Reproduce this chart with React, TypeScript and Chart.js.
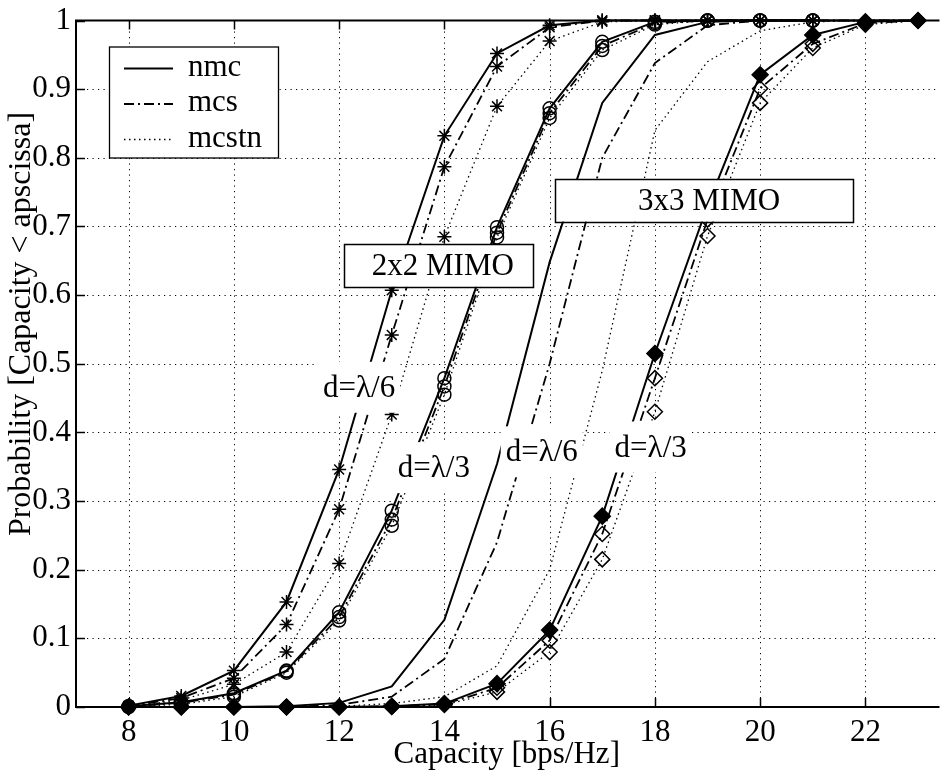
import React, { useEffect, useRef } from 'react';
import { Chart, registerables } from 'chart.js';

Chart.register(...registerables);

const FONT = "'Liberation Serif', 'Times New Roman', Times, serif";
const FS = 31;

// ---------- axes ----------
const xTicks = [8, 10, 12, 14, 16, 18, 20, 22];
const yTicks = [0, 0.1, 0.2, 0.3, 0.4, 0.5, 0.6, 0.7, 0.8, 0.9, 1];
const xTitle = 'Capacity [bps/Hz]';
const yTitle = 'Probability [Capacity < apscissa]';

// ---------- data ----------
const cap2x2 = [8, 9, 10, 11, 12, 13, 14, 15, 16, 17, 18, 19, 20, 21];
const cap3x3 = [8, 9, 10, 11, 12, 13, 14, 15, 16, 17, 18, 19, 20, 21, 22, 23];

// 2x2 MIMO, d = lambda/6 (stars)
const m2l6Nmc = [0.002, 0.016, 0.053, 0.153, 0.346, 0.607, 0.832, 0.952, 0.993, 1, 1, 1, 1, 1];
const m2l6Mcs = [0.001, 0.013, 0.042, 0.12, 0.288, 0.542, 0.787, 0.933, 0.99, 1, 1, 1, 1, 1];
const m2l6Mcstn = [0.001, 0.01, 0.033, 0.08, 0.209, 0.426, 0.685, 0.875, 0.97, 0.998, 1, 1, 1, 1];

// 2x2 MIMO, d = lambda/3 (circles)
const m2l3Nmc = [0.001, 0.007, 0.02, 0.053, 0.138, 0.286, 0.479, 0.699, 0.872, 0.969, 0.998, 1, 1, 1];
const m2l3Mcs = [0.001, 0.006, 0.018, 0.052, 0.131, 0.273, 0.467, 0.691, 0.865, 0.963, 0.996, 1, 1, 1];
const m2l3Mcstn = [0, 0.004, 0.015, 0.05, 0.126, 0.264, 0.455, 0.684, 0.858, 0.957, 0.994, 1, 1, 1];

// 3x3 MIMO, d = lambda/6 (no markers)
const m3l6Nmc = [0, 0, 0, 0.001, 0.006, 0.03, 0.127, 0.354, 0.648, 0.88, 0.979, 0.998, 1, 1, 1, 1];
const m3l6Mcs = [0, 0, 0, 0, 0.003, 0.015, 0.07, 0.24, 0.5, 0.8, 0.938, 0.993, 1, 1, 1, 1];
const m3l6Mcstn = [0, 0, 0, 0, 0.001, 0.005, 0.015, 0.06, 0.2, 0.49, 0.84, 0.94, 0.985, 0.998, 1, 1];

// 3x3 MIMO, d = lambda/3 (diamonds)
const m3l3Nmc = [0, 0, 0, 0, 0, 0.001, 0.005, 0.034, 0.112, 0.278, 0.515, 0.73, 0.921, 0.979, 0.998, 1];
const m3l3Mcs = [0, 0, 0, 0, 0, 0.001, 0.004, 0.028, 0.097, 0.252, 0.479, 0.71, 0.901, 0.966, 0.996, 1];
const m3l3Mcstn = [0, 0, 0, 0, 0, 0, 0.003, 0.022, 0.08, 0.215, 0.43, 0.686, 0.88, 0.96, 0.994, 1];

// ---------- legend & annotations ----------
const legendLabels = ['nmc', 'mcs', 'mcstn'];
const dashSolid: number[] = [];
const dashDashDot = [10, 4, 2, 4];
const dashDot = [1.5, 3.5];
const legendDashes = [dashSolid, dashDashDot, dashDot];
const wSolid = 2;
const wDashDot = 1.8;
const wDot = 1.3;
const legendWidths = [wSolid, wDashDot, wDot];

const textLabels = [
  { text: 'd=λ/6', x: 12.38, y: 0.465 },
  { text: 'd=λ/3', x: 13.8, y: 0.348 },
  { text: 'd=λ/6', x: 15.85, y: 0.371 },
  { text: 'd=λ/3', x: 17.92, y: 0.378 },
];
const boxLabels = [
  { text: '2x2 MIMO', x0: 12.1, x1: 15.69, y0: 0.612, y1: 0.674, tx: 13.97 },
  { text: '3x3 MIMO', x0: 16.11, x1: 21.77, y0: 0.707, y1: 0.769, tx: 19.03 },
];

type Marker = { style: any; fill: boolean; radius: number } | null;

function series(xs: number[], ys: number[], dash: number[], width: number, marker: Marker) {
  return {
    data: xs.map((x, i) => ({ x, y: ys[i] })),
    borderColor: '#000',
    borderWidth: width,
    borderDash: dash,
    fill: false,
    tension: 0,
    clip: false as any,
    pointStyle: marker ? marker.style : 'circle',
    pointRadius: marker ? marker.radius : 0,
    pointBorderColor: '#000',
    pointBorderWidth: 1.5,
    pointBackgroundColor: marker && marker.fill ? '#000' : 'rgba(0,0,0,0)',
  };
}

const starM: Marker = { style: 'star', fill: false, radius: 7 };
const circM: Marker = { style: 'circle', fill: false, radius: 6.5 };
const diaFill: Marker = { style: 'rectRot', fill: true, radius: 8 };
const diaOpen: Marker = { style: 'rectRot', fill: false, radius: 7.5 };

const decorPlugin = {
  id: 'matlabDecor',
  beforeDatasetsDraw(chart: any) {
    const { ctx, chartArea: a, scales } = chart;
    const xs = scales.x;
    const ys = scales.y;
    ctx.save();
    // dotted grid
    ctx.strokeStyle = '#000';
    ctx.lineWidth = 1;
    ctx.setLineDash([1.2, 4.3]);
    for (const v of xTicks) {
      const px = Math.round(xs.getPixelForValue(v)) + 0.5;
      ctx.beginPath();
      ctx.moveTo(px, a.top);
      ctx.lineTo(px, a.bottom);
      ctx.stroke();
    }
    for (const v of yTicks) {
      if (v <= 0 || v >= 1) continue;
      const py = Math.round(ys.getPixelForValue(v)) + 0.5;
      ctx.beginPath();
      ctx.moveTo(a.left, py);
      ctx.lineTo(a.right, py);
      ctx.stroke();
    }
    ctx.setLineDash([]);
    // inward tick marks
    ctx.lineWidth = 1.5;
    for (const v of xTicks) {
      const px = Math.round(xs.getPixelForValue(v)) + 0.5;
      ctx.beginPath();
      ctx.moveTo(px, a.bottom);
      ctx.lineTo(px, a.bottom - 9);
      ctx.moveTo(px, a.top);
      ctx.lineTo(px, a.top + 9);
      ctx.stroke();
    }
    for (const v of yTicks) {
      const py = Math.round(ys.getPixelForValue(v)) + 0.5;
      ctx.beginPath();
      ctx.moveTo(a.left, py);
      ctx.lineTo(a.left + 9, py);
      ctx.stroke();
    }
    // frame
    ctx.lineWidth = 2;
    ctx.beginPath();
    ctx.moveTo(a.right + 2, a.top);
    ctx.lineTo(a.left, a.top);
    ctx.lineTo(a.left, a.bottom);
    ctx.lineTo(a.right + 2, a.bottom);
    ctx.stroke();
    // y title
    ctx.fillStyle = '#000';
    ctx.font = `32px ${FONT}`;
    ctx.textAlign = 'center';
    ctx.textBaseline = 'middle';
    ctx.translate(22, 324);
    ctx.rotate(-Math.PI / 2);
    ctx.fillText(yTitle, 0, 0);
    ctx.restore();
  },
  afterDatasetsDraw(chart: any) {
    const { ctx, chartArea: a, scales } = chart;
    const xs = scales.x;
    const ys = scales.y;
    ctx.save();
    ctx.font = `${FS}px ${FONT}`;
    ctx.textAlign = 'center';
    ctx.textBaseline = 'middle';
    // d= labels with white background
    for (const t of textLabels) {
      const cx = xs.getPixelForValue(t.x);
      const cy = ys.getPixelForValue(t.y);
      const w = ctx.measureText(t.text).width + 10;
      ctx.fillStyle = '#fff';
      ctx.fillRect(cx - w / 2, cy - 26, w, 51);
      ctx.fillStyle = '#000';
      ctx.fillText(t.text, cx, cy + 1);
    }
    // boxed labels
    for (const b of boxLabels) {
      const x0 = xs.getPixelForValue(b.x0);
      const x1 = xs.getPixelForValue(b.x1);
      const y0 = ys.getPixelForValue(b.y1);
      const y1 = ys.getPixelForValue(b.y0);
      ctx.fillStyle = '#fff';
      ctx.fillRect(x0, y0, x1 - x0, y1 - y0);
      ctx.strokeStyle = '#000';
      ctx.lineWidth = 1.5;
      ctx.strokeRect(Math.round(x0) + 0.5, Math.round(y0) + 0.5, Math.round(x1 - x0), Math.round(y1 - y0));
      ctx.fillStyle = '#000';
      ctx.fillText(b.text, xs.getPixelForValue(b.tx), (y0 + y1) / 2 + 1);
    }
    // legend
    const L = a.left + 33;
    const T = a.top + 26;
    const W = 169;
    const H = 111;
    ctx.fillStyle = '#fff';
    ctx.fillRect(L, T, W, H);
    ctx.strokeStyle = '#000';
    ctx.lineWidth = 1.3;
    ctx.strokeRect(L + 0.5, T + 0.5, W, H);
    ctx.textAlign = 'left';
    legendLabels.forEach((lab, i) => {
      const ry = T + 22 + i * 35.5;
      ctx.setLineDash(legendDashes[i]);
      ctx.lineWidth = legendWidths[i];
      ctx.beginPath();
      ctx.moveTo(L + 15, ry);
      ctx.lineTo(L + 64, ry);
      ctx.stroke();
      ctx.setLineDash([]);
      ctx.fillStyle = '#000';
      ctx.fillText(lab, L + 79, ry - 1);
    });
    ctx.restore();
  },
};

export default function App() {
  const ref = useRef<HTMLCanvasElement>(null);
  useEffect(() => {
    if (!ref.current) return;
    const datasets = [
      series(cap2x2, m2l6Nmc, dashSolid, wSolid, starM),
      series(cap2x2, m2l6Mcs, dashDashDot, wDashDot, starM),
      series(cap2x2, m2l6Mcstn, dashDot, wDot, starM),
      series(cap2x2, m2l3Nmc, dashSolid, wSolid, circM),
      series(cap2x2, m2l3Mcs, dashDashDot, wDashDot, circM),
      series(cap2x2, m2l3Mcstn, dashDot, wDot, circM),
      series(cap3x3, m3l6Nmc, dashSolid, wSolid, null),
      series(cap3x3, m3l6Mcs, dashDashDot, wDashDot, null),
      series(cap3x3, m3l6Mcstn, dashDot, wDot, null),
      series(cap3x3, m3l3Nmc, dashSolid, wSolid, diaFill),
      series(cap3x3, m3l3Mcs, dashDashDot, wDashDot, diaOpen),
      series(cap3x3, m3l3Mcstn, dashDot, wDot, diaOpen),
    ];
    const chart = new Chart(ref.current, {
      type: 'line',
      data: { datasets: datasets as any },
      options: {
        animation: false,
        responsive: false,
        events: [],
        layout: { padding: { top: 17, left: 0, right: 0, bottom: 0 } },
        plugins: { legend: { display: false }, tooltip: { enabled: false } },
        scales: {
          x: {
            type: 'linear',
            min: 7,
            max: 23.37,
            grid: { display: false, drawTicks: false, tickLength: 0 },
            border: { display: false },
            afterBuildTicks: (s: any) => {
              s.ticks = xTicks.map((v) => ({ value: v }));
            },
            afterFit: (s: any) => {
              s.height = 70;
            },
            ticks: {
              color: '#000',
              font: { family: FONT, size: FS, lineHeight: 1 },
              padding: 10,
              maxRotation: 0,
              autoSkip: false,
              callback: (v: any) => String(v),
            },
            title: {
              display: true,
              text: xTitle,
              color: '#000',
              font: { family: FONT, size: FS, lineHeight: 1.2 },
              padding: { top: 0, bottom: 4 },
            },
          },
          y: {
            type: 'linear',
            min: 0,
            max: 1,
            grid: { display: false, drawTicks: false, tickLength: 0 },
            border: { display: false },
            afterBuildTicks: (s: any) => {
              s.ticks = yTicks.map((v) => ({ value: v }));
            },
            afterFit: (s: any) => {
              s.width = 76;
            },
            ticks: {
              color: '#000',
              font: { family: FONT, size: FS, lineHeight: 1 },
              padding: 5,
              autoSkip: false,
              callback: (v: any) => String(Number(Number(v).toFixed(1))),
            },
          },
        },
      } as any,
      plugins: [decorPlugin],
    });
    return () => chart.destroy();
  }, []);
  return (
    <div style={{ position: 'fixed', left: 0, top: 0, width: 947, height: 777, background: '#fff' }}>
      <canvas ref={ref} width={947} height={777} style={{ display: 'block', width: 947, height: 777 }} />
    </div>
  );
}
